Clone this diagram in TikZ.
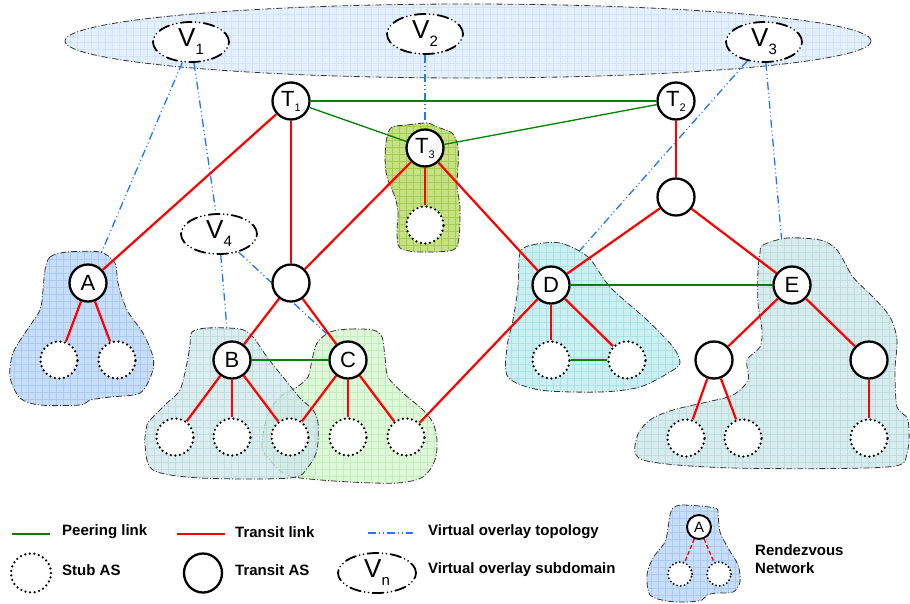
\documentclass[tikz,border=0pt]{standalone}
\usepackage{fontspec}
\setmainfont{Liberation Sans}
\usetikzlibrary{shapes.geometric}
\definecolor{ovfill}{RGB}{228,240,253}
\definecolor{ovgrid}{RGB}{210,228,250}
\definecolor{afill}{RGB}{200,222,248}
\definecolor{agrid}{RGB}{170,204,244}
\definecolor{tfill}{RGB}{198,224,134}
\definecolor{tgrid}{RGB}{166,204,78}
\definecolor{bfill}{RGB}{208,231,234}
\definecolor{bgrid}{RGB}{184,217,221}
\definecolor{cfill}{RGB}{224,248,218}
\definecolor{cgrid}{RGB}{196,238,190}
\definecolor{dfill}{RGB}{204,239,241}
\definecolor{dgrid}{RGB}{170,227,231}
\definecolor{efill}{RGB}{216,236,238}
\definecolor{egrid}{RGB}{190,222,226}
\definecolor{peergreen}{RGB}{0,128,0}
\definecolor{virtblue}{RGB}{30,120,255}
\newcommand{\gridfill}[3]{%
  \begin{scope}
    \clip #3;
    \fill[#1] (0,0) rectangle (910,603);
    \draw[#2, line width=0.45pt, step=7pt] (0,0) grid (910,603);
  \end{scope}
  \draw[blobborder] #3;}
\newcommand{\tlab}[1]{T\raisebox{-5pt}{\fontsize{11}{11}\selectfont #1}}
\newcommand{\vlab}[1]{\fontsize{26}{26}\selectfont V\raisebox{-8pt}{\fontsize{15}{15}\selectfont #1}}
\begin{document}
\begin{tikzpicture}[x=1pt,y=-1pt,
  transit/.style={circle, draw, line width=2.3pt, fill=white, minimum size=37pt, inner sep=0pt, font=\fontsize{22}{22}\selectfont},
  stubas/.style={circle, draw, line width=2.5pt, dash pattern=on 0pt off 4.6pt, line cap=round, fill=white, minimum size=37pt, inner sep=0pt},
  vell/.style={ellipse, draw, fill=white, line width=1.8pt, dash pattern=on 11pt off 4pt on 0pt off 4pt on 0pt off 4pt, line cap=round, minimum width=76pt, minimum height=40pt, inner sep=0pt},
  peer/.style={draw=peergreen, line width=1.3pt},
  trans/.style={draw=red, line width=2.2pt},
  virt/.style={draw=virtblue, line width=1.3pt, dash pattern=on 8pt off 3pt on 1pt off 3pt on 1pt off 3pt},
  blobborder/.style={draw=black!80, line width=0.8pt, dash pattern=on 6pt off 2pt on 1pt off 2pt},
  lgtext/.style={anchor=west, inner sep=0pt, font=\bfseries\fontsize{15}{18}\selectfont, align=left}]
\useasboundingbox (0,0) rectangle (910,603);

% overlay domain
\gridfill{ovfill}{ovgrid}{(468,41) ellipse [x radius=403, y radius=37]}

% virtual subdomains
\node[vell] (v1) at (191,42) {\vlab{1}};
\node[vell] (v2) at (425,34) {\vlab{2}};
\node[vell] (v3) at (764,42) {\vlab{3}};
\node[vell] (v4) at (219,234) {\vlab{4}};

% virtual overlay links
\coordinate (ea) at (100,256);
\coordinate (et3) at (425,126);
\coordinate (ed) at (575,256);
\coordinate (ee) at (783,255);
\coordinate (eb) at (227,329);
\coordinate (ec) at (327,334);
\draw[virt] (v1) -- (ea);
\draw[virt] (v1) -- (v4);
\draw[virt] (v2) -- (et3);
\draw[virt] (v3) -- (ed);
\draw[virt] (v3) -- (ee);
\draw[virt] (v4) -- (eb);
\draw[virt] (v4) -- (ec);

% rendezvous networks
\gridfill{afill}{agrid}{plot[smooth cycle] coordinates {(45,270) (50,257) (67,252) (100,252) (115,263) (118,283) (127,310) (143,333) (153,357) (152,373) (140,393) (110,397) (90,400) (80,405) (40,405) (20,398) (10,377) (13,353) (27,330) (40,310) (43,290)}}
\gridfill{tfill}{tgrid}{plot[smooth cycle] coordinates {(392,127) (407,125) (427,123) (437,127) (452,133) (458,147) (458,167) (457,187) (460,207) (459,237) (453,250) (420,252) (400,248) (397,233) (398,213) (395,197) (387,177) (385,157) (387,137)}}
\gridfill{dfill}{dgrid}{plot[smooth cycle] coordinates {(520,253) (532,245) (560,243) (588,257) (610,287) (647,320) (673,347) (680,363) (670,372) (640,387) (600,392) (540,390) (508,377) (507,347) (513,320) (518,287)}}
\gridfill{efill}{egrid}{plot[smooth cycle] coordinates {(760,253) (763,245) (787,238) (820,240) (837,250) (853,277) (873,297) (890,317) (897,340) (895,370) (897,407) (908,420) (907,453) (887,467) (733,468) (643,460) (637,437) (650,420) (673,410) (707,402) (733,395) (748,380) (747,360) (760,347) (762,330) (758,303) (758,270)}}
\gridfill{cfill}{cgrid}{plot[smooth cycle] coordinates {(330,332) (350,329) (373,330) (382,337) (385,357) (388,377) (403,393) (423,410) (433,423) (437,440) (435,460) (423,477) (397,483) (350,482) (300,478) (283,473) (270,460) (262,447) (267,417) (280,397) (297,387) (308,377) (312,360) (317,343)}}
\gridfill{bfill, opacity=0.75}{bgrid, opacity=0.75}{plot[smooth cycle] coordinates {(192,332) (207,328) (240,329) (253,337) (267,357) (283,377) (300,398) (313,410) (318,423) (317,450) (308,467) (290,478) (200,478) (153,470) (145,445) (147,425) (153,417) (167,403) (180,390) (187,363) (190,345)}}

% AS nodes
\node[transit] (t1) at (291,101) {\tlab{1}};
\node[transit] (t2) at (676,101) {\tlab{2}};
\node[transit] (t3) at (425,148) {\tlab{3}};
\node[stubas] (s3) at (425,225) {};
\node[transit] (u2) at (676,197) {};
\node[transit] (a) at (88,283) {A};
\node[stubas] (sa1) at (59,360) {};
\node[stubas] (sa2) at (117,360) {};
\node[transit] (u1) at (291,283) {};
\node[transit] (b) at (232,360) {B};
\node[transit] (c) at (348,360) {C};
\node[stubas] (sb1) at (175,437) {};
\node[stubas] (sb2) at (232,437) {};
\node[stubas] (sb3) at (290,437) {};
\node[stubas] (sc1) at (348,437) {};
\node[stubas] (sc2) at (406,437) {};
\node[transit] (d) at (551,285) {D};
\node[stubas] (sd1) at (551,360) {};
\node[stubas] (sd2) at (627,360) {};
\node[transit] (e) at (792,285) {E};
\node[transit] (u3) at (714,360) {};
\node[transit] (u4) at (869,360) {};
\node[stubas] (se1) at (686,438) {};
\node[stubas] (se2) at (743,438) {};
\node[stubas] (se3) at (869,438) {};

% peering links
\draw[peer] (t1) -- (t2);
\draw[peer] (t1) -- (t3);
\draw[peer] (t2) -- (t3);
\draw[peer] (b) -- (c);
\draw[peer] (d) -- (e);
\draw[peer] (sd1) -- (sd2);

% transit links
\draw[trans] (t1) -- (a);
\draw[trans] (t1) -- (u1);
\draw[trans] (t3) -- (u1);
\draw[trans] (t3) -- (s3);
\draw[trans] (t3) -- (d);
\draw[trans] (t2) -- (u2);
\draw[trans] (u2) -- (d);
\draw[trans] (u2) -- (e);
\draw[trans] (a) -- (sa1);
\draw[trans] (a) -- (sa2);
\draw[trans] (u1) -- (b);
\draw[trans] (u1) -- (c);
\draw[trans] (b) -- (sb1);
\draw[trans] (b) -- (sb2);
\draw[trans] (b) -- (sb3);
\draw[trans] (c) -- (sb3);
\draw[trans] (c) -- (sc1);
\draw[trans] (c) -- (sc2);
\draw[trans] (d) -- (sc2);
\draw[trans] (d) -- (sd1);
\draw[trans] (d) -- (sd2);
\draw[trans] (e) -- (u3);
\draw[trans] (e) -- (u4);
\draw[trans] (u3) -- (se1);
\draw[trans] (u3) -- (se2);
\draw[trans] (u4) -- (se3);

% legend
\coordinate (lp1) at (12,534); \coordinate (lp2) at (50,534);
\coordinate (lt1) at (177,534); \coordinate (lt2) at (225,534);
\coordinate (lv1) at (368,533); \coordinate (lv2) at (413,533);
\draw[peer] (lp1) -- (lp2);
\draw[trans] (lt1) -- (lt2);
\draw[virt] (lv1) -- (lv2);
\node[lgtext] (lpt) at (62,532) {Peering link};
\node[lgtext] (ltt) at (235,532) {Transit link};
\node[lgtext] (lvt) at (428,532) {Virtual overlay topology};
\node[stubas, ellipse, minimum width=40pt, minimum height=39pt] (lstub) at (31,573) {};
\node[lgtext] (lstubt) at (62,570) {Stub AS};
\node[transit, ellipse, minimum width=38pt, minimum height=39pt] (ltr) at (203,573) {};
\node[lgtext] (ltrt) at (235,570) {Transit AS};
\node[vell, minimum width=78pt, minimum height=40pt] (lvn) at (377,573) {\vlab{n}};
\node[lgtext] (lvnt) at (428,570) {Virtual overlay subdomain};
\gridfill{afill}{agrid}{plot[smooth cycle] coordinates {(673,508) (683,505) (715,508) (718,515) (720,532) (728,548) (738,565) (740,582) (733,592) (717,593) (707,595) (702,600) (687,602) (667,601) (650,595) (647,575) (653,558) (665,542) (668,528) (670,515)}}
\node[transit, minimum size=24pt, line width=1.9pt, font=\fontsize{15}{15}\selectfont] (la) at (699,527) {A};
\node[stubas, minimum size=24pt, line width=2.1pt, dash pattern=on 0pt off 3.8pt] (ls1) at (680,574) {};
\node[stubas, minimum size=24pt, line width=2.1pt, dash pattern=on 0pt off 3.8pt] (ls2) at (719,574) {};
\draw[red, line width=1.3pt, dash pattern=on 4pt off 2.5pt] (la) -- (ls1);
\draw[red, line width=1.3pt, dash pattern=on 4pt off 2.5pt] (la) -- (ls2);
\node[lgtext] (lrt) at (755,559) {Rendezvous\\Network};
\end{tikzpicture}
\end{document}
